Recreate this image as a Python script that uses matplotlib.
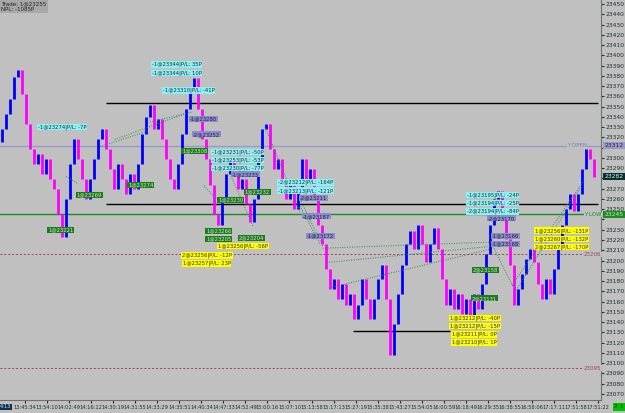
import matplotlib
matplotlib.use("Agg")
import matplotlib.pyplot as plt
import numpy as np

# bar closes, one per bar (tick chart, bar index on x)
closes = [
    23328, 23343, 23357, 23379, 23386, 23362, 23333, 23309, 23294, 23304,
    23284, 23299, 23279, 23270, 23245, 23223, 23260, 23294, 23318, 23299,
    23279, 23260, 23279, 23299, 23318, 23328, 23309, 23289, 23270, 23294,
    23279, 23265, 23284, 23270, 23294, 23323, 23340, 23352, 23328, 23338,
    23318, 23299, 23279, 23270, 23294, 23323, 23348, 23367, 23378, 23348,
    23318, 23299, 23274, 23245, 23235, 23260, 23284, 23299, 23289, 23270,
    23279, 23255, 23238, 23260, 23299, 23328, 23333, 23309, 23289, 23299,
    23274, 23260, 23274, 23250, 23270, 23299, 23274, 23289, 23260, 23235,
    23216, 23192, 23172, 23182, 23162, 23177, 23157, 23167, 23143, 23157,
    23182, 23162, 23143, 23162, 23182, 23196, 23162, 23108, 23138, 23167,
    23196, 23216, 23229, 23211, 23235, 23216, 23199, 23216, 23232, 23211,
    23182, 23157, 23172, 23153, 23167, 23148, 23162, 23145, 23167, 23153,
    23177, 23206, 23235, 23260, 23268, 23245, 23221, 23196, 23157, 23172,
    23187, 23201, 23211, 23199, 23177, 23162, 23182, 23167, 23192, 23216,
    23235, 23250, 23265, 23248, 23265, 23289, 23309, 23299, 23281,
]

time_labels = ["13:45:34", "13:54:10", "14:02:49", "14:16:12", "14:30:19", "14:31:55",
               "14:33:29", "14:35:51", "14:40:34", "14:47:33", "14:52:49", "15:00:16",
               "15:07:10", "15:13:58", "15:17:13", "15:27:19", "15:35:38", "15:43:27",
               "15:54:05", "16:00:59", "16:18:49", "16:29:35", "16:38:55", "16:58:06",
               "17:17:11", "17:51:58", "17:51:22"]

# trade connector lines: entry bar, entry price, exit bar, exit price
trade_x0 = [24.5, 28.2, 37.0, 16.0, 65.7, 56.5, 50.5, 74.5, 74.5, 80.2, 81.2, 82.5, 122.7, 128.2, 127.5]
trade_p0 = [23311, 23318, 23335, 23282, 23331, 23289, 23273, 23260, 23253, 23212, 23198, 23174, 23214, 23169, 23176]
trade_x1 = [36.2, 45.7, 47.7, 19.0, 74.5, 62.7, 53.5, 80.2, 79.5, 122.7, 122.7, 122.0, 127.7, 144.5, 145.5]
trade_p1 = [23326, 23343, 23345, 23275, 23247, 23234, 23260, 23214, 23216, 23218, 23214, 23211, 23175, 23270, 23278]

# order / fill tags: text, bar, price
cyan_tags = [("-1@23344|P/L: 35P", 37.5, 23391), ("-1@23344|P/L: 10P", 37.5, 23383),
             ("-1@23310|P/L: -41P", 40.2, 23366), ("-1@23274|P/L: -7P", 9.0, 23330),
             ("-1@23231|P/L: -50P", 52.5, 23306), ("-1@23253|P/L: -53P", 52.5, 23298),
             ("-1@23230|P/L: -77P", 52.5, 23290), ("-2@23212|P/L: -164P", 69.0, 23276),
             ("-1@23213|P/L: -121P", 69.0, 23268), ("-1@23195|P/L: -24P", 116.2, 23264),
             ("-1@23194|P/L: -25P", 116.2, 23256), ("-2@23194|P/L: -84P", 116.2, 23248)]
lav_tags = [("-1@23280", 47.0, 23338), ("-2@23252", 47.7, 23323), ("-1@23233", 57.5, 23284),
            ("-2@23211", 74.5, 23261), ("-1@23187", 75.2, 23243), ("-1@23172", 76.2, 23224),
            ("-2@23170", 121.5, 23241), ("-1@23166", 122.5, 23224), ("-1@23168", 122.5, 23216)]
green_tags = [("1@23221", 11.5, 23230), ("1@23269", 18.7, 23264), ("1@23274", 31.5, 23274),
              ("1@23308", 45.0, 23307), ("1@23230", 54.0, 23259), ("1@23232", 60.7, 23267),
              ("1@23266", 51.0, 23229), ("1@23205", 51.0, 23221), ("2@23204", 59.2, 23222),
              ("2@23158", 117.7, 23191), ("2@23131", 117.5, 23163)]
yellow_tags = [("1@23256|P/L: -56P", 54.0, 23214), ("2@23256|P/L: -12P", 45.0, 23205),
               ("1@23257|P/L: 23P", 45.2, 23197), ("1@23212|P/L: -40P", 112.0, 23144),
               ("1@23212|P/L: -15P", 112.0, 23136), ("1@23211|P/L: 0P", 112.5, 23128),
               ("1@23210|P/L: 1P", 112.5, 23120), ("1@23256|P/L: -131P", 133.2, 23229),
               ("1@23260|P/L: -132P", 133.2, 23221), ("2@23267|P/L: -170P", 133.2, 23213)]

y_open = 23312
y_low = 23245
last_price = 23282
dashed_levels = [23206, 23095]
black_levels = [23354, 23255, 23131]
black_from = [26.0, 26.0, 87.7]
black_to = [149.0, 149.0, 112.0]

BG = "#c0c0c0"
fig = plt.figure(figsize=(6.25, 4.13), dpi=100)
fig.patch.set_facecolor(BG)
ax = fig.add_axes([0, 13 / 413, 601 / 625, 400 / 413])
ax.set_facecolor(BG)

c = np.array(closes, dtype=float)
x = np.arange(len(c))
o = np.r_[c[0] - 12, c[:-1]]
up = c >= o
ax.vlines(x[up], o[up], c[up], color="#0000ff", lw=2.0, zorder=3)
ax.vlines(x[~up], o[~up], c[~up], color="#ff00ff", lw=2.0, zorder=3)

# level lines
for lv, a, b in zip(black_levels, black_from, black_to):
    ax.hlines(lv, a, b, color="black", lw=1.0, zorder=2)
ax.axhline(y_open, color="#9a9ac8", lw=1.0, zorder=2)
ax.axhline(y_low, color="#1f8a1f", lw=1.0, zorder=2)
for lv in dashed_levels:
    ax.axhline(lv, color="#a0405a", lw=0.7, ls=(0, (2, 2)), zorder=2)
    ax.text(145.5, lv, str(lv), color="#a0405a", fontsize=4.0, va="center", ha="left", zorder=6,
            bbox=dict(boxstyle="square,pad=0.05", fc=BG, ec="none"))
ax.text(141.2, y_open, "Y OPEN", color="#7c7cb8", fontsize=4.0, va="center", ha="left", zorder=6,
        bbox=dict(boxstyle="square,pad=0.05", fc=BG, ec="none"))
ax.text(145.5, y_low, "Y LOW", color="#1f8a1f", fontsize=4.0, va="center", ha="left", zorder=6,
        bbox=dict(boxstyle="square,pad=0.05", fc=BG, ec="none"))

for a0, p0, a1, p1 in zip(trade_x0, trade_p0, trade_x1, trade_p1):
    ax.plot([a0, a1], [p0, p1], color="#2e8b57", lw=0.7, ls=(0, (1, 1.5)), zorder=4)


def tag(items, fc, tc):
    for txt, bx, pr in items:
        ax.text(bx, pr, txt, fontsize=3.8, color=tc, va="center", ha="left", zorder=5,
                bbox=dict(boxstyle="square,pad=0.1", fc=fc, ec="none"))


tag(cyan_tags, "#8cf0f0", "#203040")
tag(lav_tags, "#8c8cc8", "#202050")
tag(green_tags, "#1f7a1f", "#c8ecc8")
tag(yellow_tags, "#ffff00", "#303000")

ax.set_xlim(-0.5, 149.75)
ax.set_ylim(23064, 23454)

ax.set_xticks(np.linspace(5.75, 149, len(time_labels)))
ax.set_xticklabels(time_labels)
ax.yaxis.tick_right()
yticks = np.arange(23070, 23451, 10)
ax.set_yticks(yticks)
# price boxes on the axis cover these tick labels
covered = {23310, 23280, 23240}
ax.set_yticklabels(["" if t in covered else str(t) for t in yticks])
ax.tick_params(axis="y", labelsize=4.3, colors="#1a3030", length=2, pad=1.5)
ax.tick_params(axis="x", labelsize=3.7, colors="#1a3030", length=2, pad=1.5)
for s in ["top", "left"]:
    ax.spines[s].set_visible(False)
for s in ["right", "bottom"]:
    ax.spines[s].set_color("#707070")
    ax.spines[s].set_linewidth(0.8)

# right-axis price boxes
yt = ax.get_yaxis_transform()
for pr, fc, tc in [(y_open, "#9a9ac8", "#202050"), (last_price, "#0f2f2f", "#d0f0f0"),
                   (y_low, "#1f8a1f", "#c8ecc8")]:
    ax.text(1.006, pr, str(pr), transform=yt, fontsize=4.3, color=tc, va="center", ha="left",
            clip_on=False, zorder=7, bbox=dict(boxstyle="square,pad=0.2", fc=fc, ec="none"))

fig.text(0.002, 0.997, "Trade: 1@23255\nNPL: -1085P", fontsize=4.0, color="#202020",
         va="top", ha="left", linespacing=1.2,
         bbox=dict(boxstyle="square,pad=0.2", fc="#a8a8a8", ec="none"))
fig.text(0.0, 6 / 413, "4:13", fontsize=3.7, color="#d0e8f0", va="center", ha="left",
         bbox=dict(boxstyle="square,pad=0.1", fc="#103050", ec="none"))
fig.text(614 / 625, 6 / 413, "2 1", fontsize=4.3, color="#003000", va="center", ha="left",
         bbox=dict(boxstyle="square,pad=0.2", fc="#00c000", ec="none"))

fig.savefig("out.png", dpi=100, facecolor=BG)
